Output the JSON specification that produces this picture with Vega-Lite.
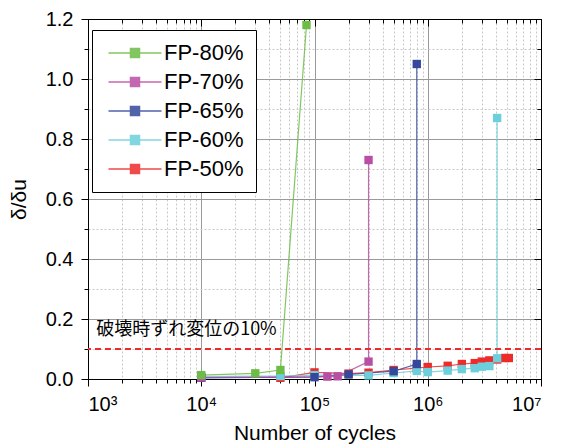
{
  "$schema": "https://vega.github.io/schema/vega-lite/v6.json",
  "width": 453,
  "height": 360,
  "autosize": "none",
  "padding": {"left": 88, "top": 19, "right": 22, "bottom": 66},
  "background": "white",
  "config": {
    "font": "Liberation Sans",
    "view": {"stroke": "black", "strokeWidth": 1},
    "axis": {
      "labelFont": "Liberation Sans",
      "titleFont": "Liberation Sans",
      "labelFontSize": 20,
      "titleFontSize": 21,
      "titleFontWeight": "normal",
      "labelColor": "black",
      "titleColor": "black",
      "domainColor": "black",
      "tickColor": "black",
      "labelOverlap": false,
      "labelPadding": 8
    },
    "legend": {
      "orient": "none",
      "legendX": 4,
      "legendY": 11,
      "strokeColor": "black",
      "fillColor": "white",
      "padding": 12,
      "labelFontSize": 22,
      "labelFont": "Liberation Sans",
      "labelColor": "black",
      "symbolType": "M-5.3,0H5.3M-0.9,-0.9H0.9V0.9H-0.9Z",
      "symbolSize": 100,
      "symbolStrokeWidth": 1.5,
      "symbolOffset": 20,
      "labelOffset": 18,
      "rowPadding": 7
    }
  },
  "datasets": {
    "series": [
      {"s": "FP-50%", "n": 50000, "d": 0.004, "i": 1},
      {"s": "FP-50%", "n": 100000, "d": 0.022, "i": 2},
      {"s": "FP-50%", "n": 200000, "d": 0.018, "i": 3},
      {"s": "FP-50%", "n": 300000, "d": 0.021, "i": 4},
      {"s": "FP-50%", "n": 500000, "d": 0.03, "i": 5},
      {"s": "FP-50%", "n": 800000, "d": 0.036, "i": 6},
      {"s": "FP-50%", "n": 1000000, "d": 0.04, "i": 7},
      {"s": "FP-50%", "n": 1500000, "d": 0.044, "i": 8},
      {"s": "FP-50%", "n": 2000000, "d": 0.05, "i": 9},
      {"s": "FP-50%", "n": 2600000, "d": 0.053, "i": 10},
      {"s": "FP-50%", "n": 3000000, "d": 0.058, "i": 11},
      {"s": "FP-50%", "n": 3500000, "d": 0.062, "i": 12},
      {"s": "FP-50%", "n": 4100000, "d": 0.065, "i": 13},
      {"s": "FP-50%", "n": 4800000, "d": 0.07, "i": 14},
      {"s": "FP-50%", "n": 5200000, "d": 0.07, "i": 15},
      {"s": "FP-60%", "n": 10000, "d": 0.008, "i": 1},
      {"s": "FP-60%", "n": 50000, "d": 0.01, "i": 2},
      {"s": "FP-60%", "n": 100000, "d": 0.013, "i": 3},
      {"s": "FP-60%", "n": 300000, "d": 0.012, "i": 4},
      {"s": "FP-60%", "n": 500000, "d": 0.02, "i": 5},
      {"s": "FP-60%", "n": 800000, "d": 0.027, "i": 6},
      {"s": "FP-60%", "n": 1000000, "d": 0.023, "i": 7},
      {"s": "FP-60%", "n": 1500000, "d": 0.028, "i": 8},
      {"s": "FP-60%", "n": 2000000, "d": 0.033, "i": 9},
      {"s": "FP-60%", "n": 2600000, "d": 0.036, "i": 10},
      {"s": "FP-60%", "n": 3000000, "d": 0.041, "i": 11},
      {"s": "FP-60%", "n": 3500000, "d": 0.043, "i": 12},
      {"s": "FP-60%", "n": 4100000, "d": 0.069, "i": 13},
      {"s": "FP-60%", "n": 4100000, "d": 0.87, "i": 14},
      {"s": "FP-65%", "n": 10000, "d": 0.004, "i": 1},
      {"s": "FP-65%", "n": 100000, "d": 0.006, "i": 2},
      {"s": "FP-65%", "n": 200000, "d": 0.015, "i": 3},
      {"s": "FP-65%", "n": 500000, "d": 0.026, "i": 4},
      {"s": "FP-65%", "n": 800000, "d": 0.05, "i": 5},
      {"s": "FP-65%", "n": 800000, "d": 1.05, "i": 6},
      {"s": "FP-70%", "n": 10000, "d": 0.005, "i": 1},
      {"s": "FP-70%", "n": 130000, "d": 0.008, "i": 2},
      {"s": "FP-70%", "n": 160000, "d": 0.009, "i": 3},
      {"s": "FP-70%", "n": 300000, "d": 0.058, "i": 4},
      {"s": "FP-70%", "n": 300000, "d": 0.73, "i": 5},
      {"s": "FP-80%", "n": 10000, "d": 0.013, "i": 1},
      {"s": "FP-80%", "n": 30000, "d": 0.019, "i": 2},
      {"s": "FP-80%", "n": 50000, "d": 0.03, "i": 3},
      {"s": "FP-80%", "n": 85000, "d": 1.18, "i": 4}
    ],
    "one": [{"k": 1}]
  },
  "resolve": {"axis": {"x": "independent", "y": "independent"}},
  "layer": [
    {
      "data": {"name": "series"},
      "mark": {"type": "line", "strokeWidth": 1.2, "opacity": 0.85},
      "encoding": {
        "x": {
          "field": "n", "type": "quantitative",
          "scale": {"type": "log", "domain": [1000, 10000000]},
          "axis": {
            "title": "Number of cycles",
            "titlePadding": 8,
            "values": [1000,2000,3000,4000,5000,6000,7000,8000,9000,10000,20000,30000,40000,50000,60000,70000,80000,90000,100000,200000,300000,400000,500000,600000,700000,800000,900000,1000000,2000000,3000000,4000000,5000000,6000000,7000000,8000000,9000000,10000000],
            "grid": true,
            "gridColor": {"condition": {"test": "abs(log(datum.value)/LN10 - round(log(datum.value)/LN10)) < 1e-6", "value": "#9a9a9a"}, "value": "#c8c8c8"},
            "gridDash": {"condition": {"test": "abs(log(datum.value)/LN10 - round(log(datum.value)/LN10)) < 1e-6", "value": []}, "value": [2, 2]},
            "gridWidth": 1,
            "tickSize": {"condition": {"test": "abs(log(datum.value)/LN10 - round(log(datum.value)/LN10)) < 1e-6", "value": 7}, "value": 4},
            "labelExpr": "datum.value == 1000 ? '10³' : datum.value == 10000 ? '10⁴' : datum.value == 100000 ? '10⁵' : datum.value == 1000000 ? '10⁶' : datum.value == 10000000 ? '10⁷' : ''"
          }
        },
        "y": {
          "field": "d", "type": "quantitative",
          "scale": {"domain": [0, 1.2]},
          "axis": {
            "title": "δ/δu",
            "titlePadding": 16,
            "values": [0, 0.1, 0.2, 0.3, 0.4, 0.5, 0.6, 0.7, 0.8, 0.9, 1.0, 1.1, 1.2],
            "grid": true,
            "gridColor": {"condition": {"test": "round(datum.value*10) % 2 == 0", "value": "#9a9a9a"}, "value": "#c8c8c8"},
            "gridDash": {"condition": {"test": "round(datum.value*10) % 2 == 0", "value": []}, "value": [2, 2]},
            "tickSize": {"condition": {"test": "round(datum.value*10) % 2 == 0", "value": 7}, "value": 4},
            "labelExpr": "round(datum.value*10) % 2 == 0 ? format(datum.value, '.1f') : ''"
          }
        },
        "color": {
          "field": "s", "type": "nominal",
          "scale": {"domain": ["FP-80%", "FP-70%", "FP-65%", "FP-60%", "FP-50%"], "range": ["#6cbd45", "#b84fa4", "#34489c", "#6ccfdb", "#ee2b2b"]},
          "legend": {
            "title": null,
            "encode": {"symbols": {"update": {"stroke": {"scale": "color", "field": "value"}, "fill": {"scale": "color", "field": "value"}, "strokeWidth": {"value": 1.5}, "opacity": {"value": 1}}}}
          }
        },
        "detail": {"field": "s"},
        "order": {"field": "i", "type": "quantitative"}
      }
    },
    {
      "data": {"name": "series"},
      "mark": {"type": "point", "shape": "square", "filled": true, "opacity": 1, "size": 70},
      "encoding": {
        "x": {"field": "n", "type": "quantitative", "scale": {"type": "log", "domain": [1000, 10000000]}, "axis": null},
        "y": {"field": "d", "type": "quantitative", "scale": {"domain": [0, 1.2]}, "axis": null},
        "color": {
          "field": "s", "type": "nominal",
          "scale": {"domain": ["FP-80%", "FP-70%", "FP-65%", "FP-60%", "FP-50%"], "range": ["#6cbd45", "#b84fa4", "#34489c", "#6ccfdb", "#ee2b2b"]},
          "legend": {
            "title": null,
            "encode": {"symbols": {"update": {"stroke": {"scale": "color", "field": "value"}, "fill": {"scale": "color", "field": "value"}, "strokeWidth": {"value": 1.5}, "opacity": {"value": 1}}}}
          }
        }
      }
    },
    {
      "data": {"name": "one"},
      "mark": {"type": "rule", "color": "#ee2b2b", "strokeDash": [6, 4], "strokeWidth": 2},
      "encoding": {"y": {"datum": 0.1, "type": "quantitative", "axis": null}}
    },
    {
      "data": {"name": "one"},
      "mark": {"type": "text", "text": "破壊時ずれ変位の10%", "font": "Noto Sans CJK JP", "fontSize": 18, "align": "left", "baseline": "middle", "color": "black"},
      "encoding": {
        "x": {"datum": 1180, "type": "quantitative", "axis": null},
        "y": {"datum": 0.163, "type": "quantitative", "axis": null}
      }
    },
    {
      "data": {"name": "series"},
      "mark": {"type": "point", "opacity": 0},
      "encoding": {
        "x": {
          "field": "n", "type": "quantitative",
          "axis": {
            "orient": "top", "title": null, "labels": false, "grid": false,
            "values": [1000,2000,3000,4000,5000,6000,7000,8000,9000,10000,20000,30000,40000,50000,60000,70000,80000,90000,100000,200000,300000,400000,500000,600000,700000,800000,900000,1000000,2000000,3000000,4000000,5000000,6000000,7000000,8000000,9000000,10000000],
            "tickSize": {"condition": {"test": "abs(log(datum.value)/LN10 - round(log(datum.value)/LN10)) < 1e-6", "value": -7}, "value": -4}
          }
        },
        "y": {
          "field": "d", "type": "quantitative",
          "axis": {
            "orient": "right", "title": null, "labels": false, "grid": false,
            "values": [0, 0.1, 0.2, 0.3, 0.4, 0.5, 0.6, 0.7, 0.8, 0.9, 1.0, 1.1, 1.2],
            "tickSize": {"condition": {"test": "round(datum.value*10) % 2 == 0", "value": -7}, "value": -4}
          }
        }
      }
    }
  ]
}
